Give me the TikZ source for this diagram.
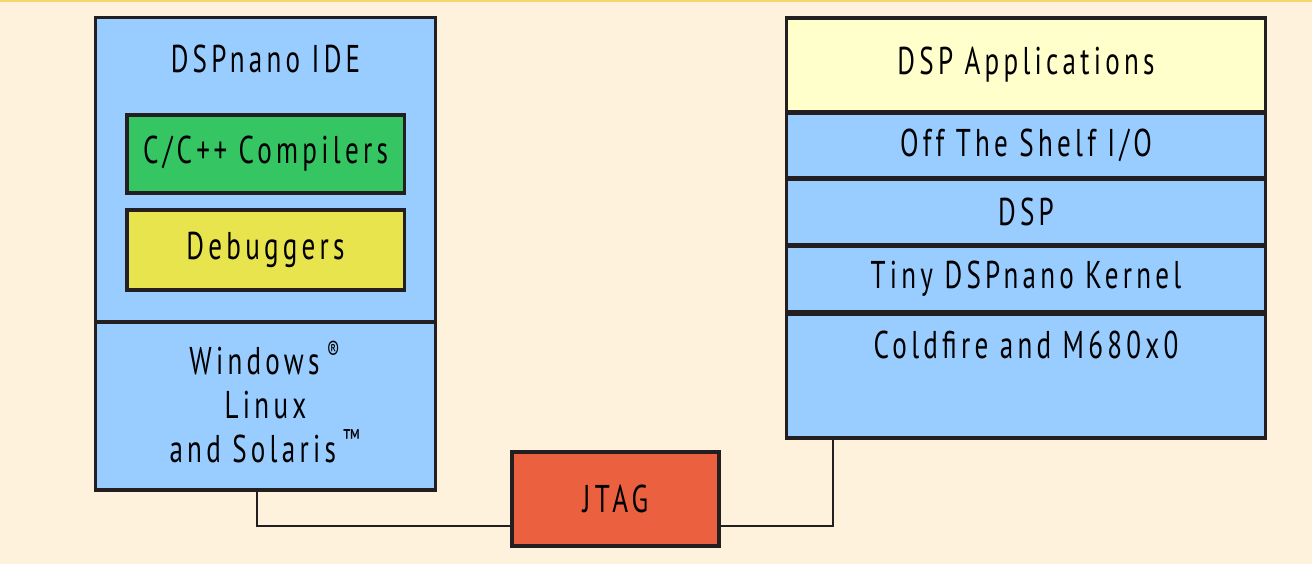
\documentclass[tikz,border=0pt]{standalone}
\usepackage{fontspec}
\setmainfont{PT Sans}[FakeStretch=0.7,LetterSpace=11]
\usepackage{tikz}
\usetikzlibrary{calc}
\usepackage{xcolor}

% Colores
\definecolor{fondo}{HTML}{FEF2DC}
\definecolor{borde}{HTML}{231F20}
\definecolor{azul}{HTML}{99CCFF}
\definecolor{verde}{HTML}{36C563}
\definecolor{amarillo}{HTML}{E8E44E}
\definecolor{crema}{HTML}{FFFFCC}
\definecolor{rojo}{HTML}{EB6140}
\definecolor{linea}{HTML}{F9D66B}

\tikzset{
    caja/.style={draw=borde, line width=0.9pt, inner sep=0pt, align=center,
        font=\fontsize{11}{12.4}\selectfont},
    texto/.style={inner sep=0pt, align=center, font=\fontsize{11}{12.4}\selectfont},
    cable/.style={draw=borde, line width=0.7pt}
}

\begin{document}
\begin{tikzpicture}[x=0.01cm,y=-0.01cm]

    % Fondo
    \fill[fondo] (0,0) rectangle (1312,564);
    \useasboundingbox (0,0) rectangle (1312,564);
    \draw[linea, line width=0.6pt] (0,1) -- (1312,1);

    % Entorno de desarrollo
    \node[caja, fill=azul, minimum width=3.39cm, minimum height=3.04cm] (ide) at (265.5,170) {};
    \node[texto] (titulo) at (265.5,59) {DSPnano IDE};
    \node[caja, fill=verde, minimum width=2.77cm, minimum height=0.78cm] (comp) at (265.5,154) {C/C+\kern1pt+ Compilers};
    \node[caja, fill=amarillo, minimum width=2.77cm, minimum height=0.80cm] (deb) at (265.5,250) {Debuggers};
    \node[caja, fill=azul, minimum width=3.39cm, minimum height=1.68cm] (so) at (265.5,406) {};
    \node[texto] (sotxt) at (265.5,402)
        {Windows\kern2pt\textsuperscript{\textregistered}\\Linux\\and Solaris\kern2pt\textsuperscript{\texttrademark}};

    % Pila del objetivo
    \node[caja, fill=crema, minimum width=4.78cm, minimum height=0.94cm] (apps) at (1026,65) {DSP Applications};
    \node[caja, fill=azul, minimum width=4.78cm, minimum height=0.65cm] (io) at (1026,145.5) {Off The Shelf I/O};
    \node[caja, fill=azul, minimum width=4.78cm, minimum height=0.65cm] (dsp) at (1026,212) {DSP};
    \node[caja, fill=azul, minimum width=4.78cm, minimum height=0.65cm] (kernel) at (1026,279) {Tiny DSPnano Kernel};
    \node[caja, fill=azul, minimum width=4.78cm, minimum height=1.24cm] (cpu) at (1026,376) {};
    \node[texto] (cputxt) at (1026,345) {Coldfire and M680x0};

    % JTAG
    \node[caja, fill=rojo, minimum width=2.07cm, minimum height=0.94cm] (jtag) at (615.5,499) {JTAG};

    % Conexiones
    \draw[cable] ([xshift=-0.085cm]so.south) |- ([yshift=-0.27cm]jtag.west);
    \draw[cable] ([yshift=-0.27cm]jtag.east) -| ([xshift=-1.93cm]cpu.south);

\end{tikzpicture}
\end{document}
